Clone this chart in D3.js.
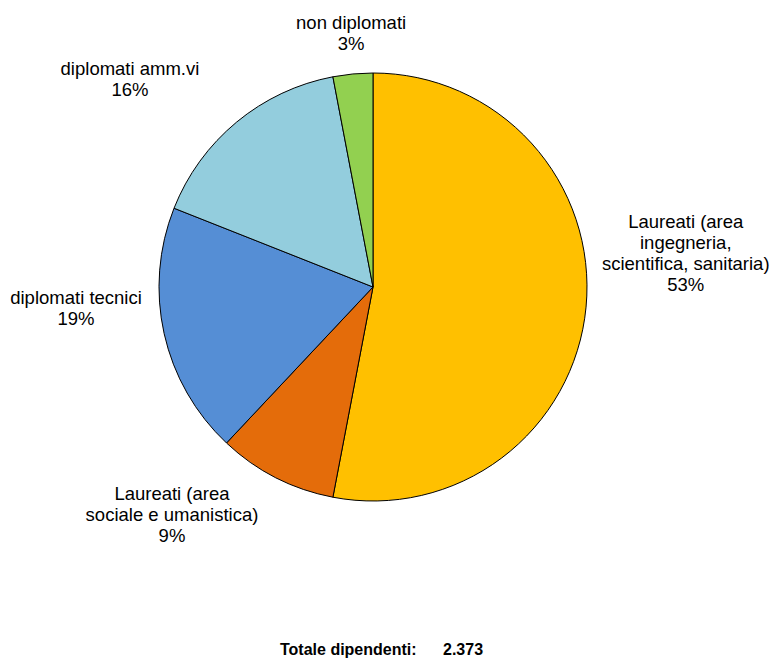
<!DOCTYPE html>
<html>
<head>
<meta charset="utf-8">
<script src="https://cdn.jsdelivr.net/npm/d3@7"></script>
<style>
  html, body { margin: 0; padding: 0; background: #fff; }
  svg { display: block; font-family: "Liberation Sans", Arial, sans-serif; }
</style>
</head>
<body>
<svg id="chart" width="772" height="660"></svg>
<script>
// Composition of staff by education level (percent of total)
const categories = [
  "Laureati (area\ningegneria,\nscientifica, sanitaria)",
  "Laureati (area\nsociale e umanistica)",
  "diplomati tecnici",
  "diplomati amm.vi",
  "non diplomati"
];
const shares = [53, 9, 19, 16, 3];
const colors = ["#FFC000", "#E46C0A", "#558ED5", "#93CDDD", "#92D050"];
const totalLabel = "Totale dipendenti:";
const totalValue = "2.373";

const svg = d3.select("#chart");
const cx = 373, cy = 287, R = 214;

const pie = d3.pie().sort(null).value(d => d.value);
const arcs = pie(categories.map((c, i) => ({ name: c, value: shares[i], color: colors[i] })));
const arc = d3.arc().innerRadius(0).outerRadius(R);

const g = svg.append("g").attr("transform", `translate(${cx},${cy})`);

g.selectAll("path.slice")
  .data(arcs)
  .join("path")
  .attr("class", "slice")
  .attr("d", arc)
  .attr("fill", d => d.data.color)
  .attr("stroke", "#000")
  .attr("stroke-width", 1)
  .attr("stroke-linejoin", "round");

// Label placement: radial distance and angular nudge from each slice's mid-angle
const labelRadius = [314, 308.5, 298.3, 315.8, 248.5];
const labelAngleShift = [-0.183, 0.2385, 0.126, -0.187, 0.006];
const lineH = 21;

const labels = g.selectAll("g.lbl")
  .data(arcs)
  .join("g")
  .attr("class", "lbl")
  .attr("transform", (d, i) => {
    const a = (d.startAngle + d.endAngle) / 2 + labelAngleShift[i];
    const x = labelRadius[i] * Math.sin(a);
    const y = -labelRadius[i] * Math.cos(a);
    return `translate(${x},${y})`;
  });

labels.each(function(d) {
  const lines = d.data.name.split("\n").concat([d3.format("d")(d.data.value) + "%"]);
  const n = lines.length;
  const t = d3.select(this).append("text")
    .attr("text-anchor", "middle")
    .attr("font-size", 18.5)
    .attr("fill", "#000");
  lines.forEach((ln, k) => {
    t.append("tspan")
      .attr("x", 0)
      .attr("y", (k - (n - 1) / 2) * lineH)
      .text(ln);
  });
});

// Total count line at the bottom
const tot = svg.append("text")
  .attr("y", 655)
  .attr("font-size", 16)
  .attr("font-weight", "bold")
  .attr("fill", "#000");
tot.append("tspan").attr("x", 280).text(totalLabel);
tot.append("tspan").attr("x", 443).text(totalValue);
</script>
</body>
</html>
